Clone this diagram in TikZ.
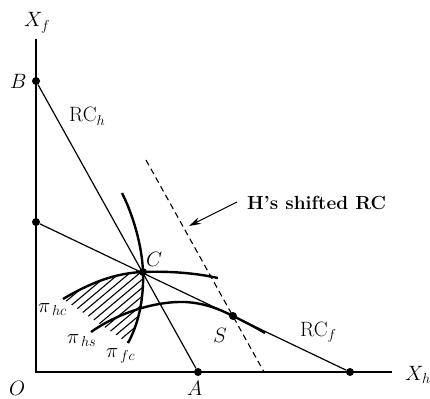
\documentclass[tikz,border=0pt]{standalone}
\usetikzlibrary{arrows.meta}
\begin{document}
\begin{tikzpicture}[x=1pt,y=-1pt,
  lbl/.style={anchor=base west, inner sep=0pt, font=\fontsize{20}{24}\selectfont},
  boldlbl/.style={anchor=base west, inner sep=0pt, font=\fontsize{19}{23}\selectfont\bfseries},
  axis/.style={line width=1.7pt},
  rcline/.style={line width=1.2pt},
  curve/.style={line width=2.4pt},
  hatchline/.style={line width=1.1pt},
  dot/.style={circle, fill=black, inner sep=0pt, minimum size=8pt},
  shifted/.style={line width=1.1pt, dash pattern=on 6pt off 4pt},
  pointer/.style={line width=1.1pt, -{Stealth[length=12pt,width=7pt]}}]
\useasboundingbox (0,0) rectangle (430,398);

% points
\coordinate (top) at (36,39);
\coordinate (O) at (36,372);
\coordinate (xend) at (392,372);
\coordinate (D1) at (146,160);
\coordinate (D2) at (264,372);
\coordinate (arrS) at (237,202);
\coordinate (arrE) at (189,226);
\node[dot] (B) at (36,81) {};
\node[dot] (P) at (36,222) {};
\node[dot] (A) at (198,372) {};
\node[dot] (F) at (350,372) {};
\node[dot] (C) at (143,272) {};
\node[dot] (S) at (233,316) {};

% hatching
\begin{scope}
\clip (63,299) .. controls (90,283) and (115,273) .. (C.center)
      .. controls (144,300) and (138,325) .. (128,343) -- cycle;
\foreach \x in {4,14,...,154}
  \draw[hatchline] (\x-60,395.3) -- (\x+100,261.1);
\end{scope}

% iso-profit curves
\draw[curve] (63,299) .. controls (90,283) and (115,273) .. (C.center)
      .. controls (170,271) and (195,273) .. (218,278);
\draw[curve] (122,193) .. controls (133,215) and (142,245) .. (C.center)
      .. controls (144,300) and (138,325) .. (128,343);
\draw[curve] (91,332) .. controls (118,313) and (155,301) .. (185,302)
      .. controls (205,303) and (220,309.5) .. (S.center)
      .. controls (245,322) and (255,327) .. (265,333);

% reaction curves
\draw[rcline] (B) -- (A);
\draw[rcline] (P) -- (F);
\draw[shifted] (D1) -- (D2);
\draw[pointer] (arrS) -- (arrE);

% axes
\draw[axis] (top) -- (O) -- (xend);

% labels
\node[lbl] (lXf) at (24,27) {$X_f$};
\node[lbl] (lB) at (10,89) {$B$};
\node[lbl] (lRCh) at (69,122) {$\mathrm{RC}_h$};
\node[lbl] (lC) at (146,266) {$C$};
\node[boldlbl] (lshift) at (247,209) {H's shifted RC};
\node[lbl] (lphc) at (38,312) {$\pi_{\,hc}$};
\node[lbl] (lphs) at (67,343) {$\pi_{\,hs}$};
\node[lbl] (lpfc) at (106,357) {$\pi_{\,fc}$};
\node[lbl] (lS) at (213,342) {$S$};
\node[lbl] (lRCf) at (300,336) {$\mathrm{RC}_f$};
\node[lbl] (lO) at (9,395) {$O$};
\node[lbl] (lA) at (187,395) {$A$};
\node[lbl] (lXh) at (405,380) {$X_h$};
\end{tikzpicture}
\end{document}
